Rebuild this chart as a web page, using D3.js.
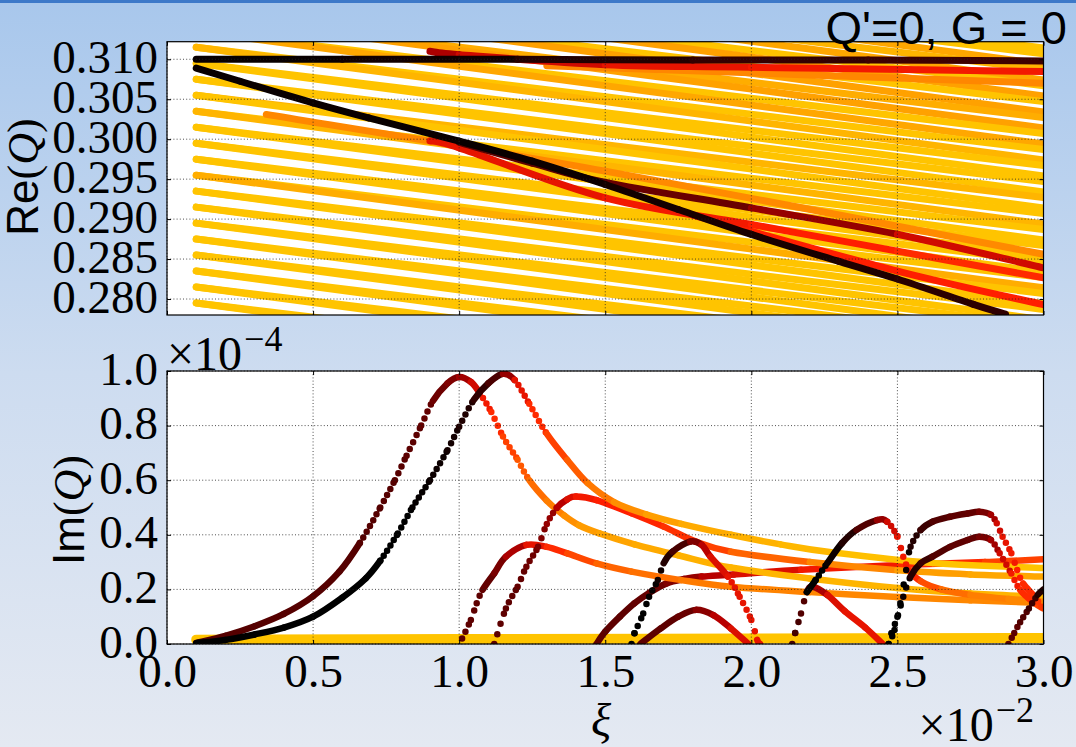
<!DOCTYPE html>
<html><head><meta charset="utf-8">
<script src="https://cdn.jsdelivr.net/npm/d3@7"></script>
<style>html,body{margin:0;padding:0;overflow:hidden;background:#cddcf0}</style>
</head><body>
<svg id="c" width="1076" height="747"></svg>
<script>
// ---------------- DATA ----------------
// ξ is in units of 1e-2, Im(Q) in units of 1e-4 (as on the axes)
const xiTicks = [0.0, 0.5, 1.0, 1.5, 2.0, 2.5, 3.0];
const reTicks = [0.280, 0.285, 0.290, 0.295, 0.300, 0.305, 0.310];
const imTicks = [0.0, 0.2, 0.4, 0.6, 0.8, 1.0];

// Re(Q): stable mode lines, value at ξ=0.1 and at ξ=3.0 (two branches per start)
const modeXi = [0.1, 3.0];
const modeStart = [0.3255,0.3235,0.3215,0.3195,0.3175,0.3155,0.3135,0.3115,0.3095,0.3075,0.3055,0.3035,0.3015,0.2995,0.2975,0.2955,0.2935,0.2915,0.2895,0.2875,0.2855,0.2835,0.2815,0.2795];
const modeEndA  = [0.3127,0.3107,0.3087,0.3067,0.3047,0.3027,0.3007,0.2987,0.2967,0.2947,0.2927,0.2907,0.2887,0.2867,0.2847,0.2827,0.2807,0.2787,0.2767,0.2747,0.2727,0.2707,0.2687,0.2667];
const modeEndB  = [0.3114,0.3094,0.3074,0.3054,0.3034,0.3014,0.2994,0.2974,0.2954,0.2934,0.2914,0.2894,0.2874,0.2854,0.2834,0.2814,0.2794,0.2774,0.2754,0.2734,0.2714,0.2694,0.2674,0.2654];
const modeColA  = [1,1,0.95,1,1,0.92,1,1,1,1,0.95,1,1,1,1,1,1,1,1,1,1,1,1,1];
const modeColB  = [1,0.9,0.9,0.88,0.88,0.88,0.9,0.95,1,1,1,0.95,1,1,1,0.92,1,1,1,1,1,1,1,1];

// Re(Q): coloured (coupled) branches [ξ, Re, colour]
const reFlat  = [[0.1,0.3100,0.02],[0.6,0.3100,0.02],[1.2,0.3100,0.05],[1.8,0.3099,0.1],[2.4,0.3099,0.12],[3.0,0.3098,0.15]];
const reSteep = [[0.1,0.3089,0.02],[0.25,0.30725,0.02],[0.5,0.30454,0.02],[0.69,0.30266,0.02],[1.0,0.29975,0.02],[1.25,0.29725,0.02],[1.5,0.29433,0.03],[1.75,0.2912,0.05],[2.0,0.28808,0.05],[2.3,0.28470,0.05],[2.5,0.28250,0.08],[2.76,0.27933,0.1],[2.87,0.2781,0.1]];
const reDarkRed = [[1.0,0.2996,0.2],[1.25,0.2970,0.2],[1.5,0.2946,0.2],[2.0,0.2914,0.25],[2.5,0.2881,0.4],[3.0,0.2839,0.5]];
const reRed1  = [[0.9,0.2998,0.5],[1.0,0.29891,0.5],[1.5,0.29266,0.5],[2.0,0.28933,0.55],[2.5,0.2860,0.55],[3.0,0.28266,0.6]];
const reOrange1 = [[0.34,0.3031,0.8],[1.5,0.2960,0.8],[3.0,0.2856,0.82]];
const reRed2  = [[0.9,0.3110,0.35],[1.0,0.31058,0.4],[1.5,0.30933,0.5],[2.0,0.3090,0.5],[3.0,0.30846,0.55]];
const reOrange2 = [[1.3,0.3092,0.8],[3.0,0.3070,0.8]];
const reRed3  = [[1.8,0.2905,0.55],[2.5,0.2835,0.55],[3.0,0.2793,0.55]];

// Im(Q) branches [ξ, Im, colour]
const imBase = [[0.1,0.016,1],[1.0,0.018,1],[2.0,0.02,1],[3.0,0.022,1]];
const imA = [[0.10,0.004,0.18],[0.2,0.03,0.18],[0.3,0.065,0.18],[0.4,0.11,0.18],[0.5,0.175,0.18],[0.59,0.265,0.18],[0.66,0.37,0.18],[0.73,0.50,0.18],[0.78,0.60,0.18],[0.82,0.69,0.19],[0.87,0.80,0.2],[0.91,0.89,0.22],[0.96,0.955,0.25],[1.00,0.978,0.3],[1.04,0.96,0.4],[1.07,0.92,0.5],[1.11,0.85,0.55],[1.15,0.76,0.6],[1.20,0.675,0.65],[1.24,0.60,0.7],[1.30,0.525,0.75],[1.36,0.47,0.8],[1.41,0.435,0.85],[1.48,0.405,0.88],[1.60,0.365,0.9],[1.75,0.325,0.92],[1.93,0.28,0.95],[2.2,0.24,0.95],[2.5,0.205,0.95],[2.75,0.185,0.95],[3.0,0.173,0.95]];
const imB = [[0.10,0.003,0.0],[0.2,0.015,0.0],[0.3,0.035,0.0],[0.4,0.06,0.0],[0.5,0.10,0.0],[0.6,0.17,0.0],[0.68,0.24,0.0],[0.73,0.305,0.0],[0.79,0.405,0.0],[0.84,0.50,0.0],[0.90,0.60,0.02],[0.96,0.71,0.03],[1.00,0.796,0.05],[1.05,0.894,0.08],[1.10,0.955,0.12],[1.15,0.99,0.2],[1.19,0.967,0.45],[1.24,0.88,0.55],[1.30,0.77,0.6],[1.37,0.674,0.65],[1.44,0.589,0.72],[1.53,0.52,0.8],[1.64,0.475,0.85],[1.76,0.44,0.9],[1.93,0.40,0.93],[2.10,0.365,0.95],[2.28,0.335,0.97],[2.62,0.297,1.0],[3.0,0.278,1.0]];
const imC = [[1.12,0.0,0.2],[1.16,0.13,0.2],[1.20,0.21,0.2],[1.23,0.283,0.22],[1.27,0.356,0.25],[1.30,0.44,0.3],[1.335,0.50,0.35],[1.37,0.53,0.45],[1.40,0.54,0.5],[1.47,0.527,0.55],[1.59,0.479,0.55],[1.70,0.43,0.58],[1.81,0.375,0.6],[1.93,0.338,0.65],[2.2,0.30,0.75],[2.5,0.27,0.85],[2.75,0.255,0.9],[3.0,0.247,0.9]];
const imD = [[1.01,0.02,0.2],[1.04,0.088,0.2],[1.06,0.149,0.2],[1.08,0.198,0.2],[1.12,0.259,0.22],[1.16,0.32,0.3],[1.23,0.363,0.45],[1.30,0.356,0.55],[1.37,0.332,0.6],[1.47,0.295,0.68],[1.59,0.265,0.72],[1.76,0.234,0.75],[1.93,0.21,0.78],[2.2,0.19,0.8],[2.5,0.172,0.8],[2.75,0.16,0.8],[3.0,0.15,0.8]];
const imE = [[1.47,0.0,0.2],[1.50,0.045,0.2],[1.55,0.10,0.2],[1.60,0.149,0.2],[1.65,0.187,0.22],[1.71,0.222,0.25],[1.77,0.238,0.3],[1.83,0.247,0.35],[1.94,0.255,0.45],[2.17,0.272,0.5],[2.51,0.289,0.55],[2.8,0.30,0.6],[3.0,0.31,0.65]];
const imF = [[1.59,0.0,0.0],[1.60,0.039,0.0],[1.63,0.112,0.0],[1.65,0.173,0.0],[1.68,0.234,0.02],[1.70,0.296,0.05],[1.73,0.338,0.1],[1.79,0.375,0.2],[1.83,0.363,0.35],[1.86,0.32,0.45],[1.92,0.247,0.5],[1.96,0.173,0.5],[2.00,0.088,0.5],[2.02,0.015,0.5],[2.03,0.0,0.5]];
const imG = [[1.62,0.0,0.2],[1.69,0.057,0.2],[1.75,0.10,0.2],[1.81,0.125,0.25],[1.87,0.106,0.35],[1.93,0.057,0.45],[1.99,0.0,0.5]];
const imH = [[2.14,0.0,0.15],[2.15,0.04,0.15],[2.17,0.112,0.15],[2.19,0.19,0.2],[2.21,0.21,0.3],[2.26,0.18,0.45],[2.32,0.12,0.5],[2.39,0.06,0.5],[2.45,0.0,0.5]];
const imI = [[2.19,0.19,0.0],[2.22,0.234,0.0],[2.26,0.296,0.0],[2.31,0.369,0.05],[2.36,0.418,0.1],[2.43,0.454,0.25],[2.465,0.448,0.4],[2.50,0.393,0.5],[2.52,0.32,0.5],[2.54,0.27,0.55],[2.58,0.23,0.6],[2.65,0.20,0.7],[2.75,0.18,0.75],[2.88,0.165,0.8],[3.0,0.155,0.8]];
const imJ = [[2.47,0.0,0.0],[2.48,0.039,0.0],[2.50,0.10,0.0],[2.52,0.173,0.0],[2.545,0.247,0.05],[2.58,0.296,0.1],[2.62,0.32,0.15],[2.68,0.356,0.2],[2.74,0.381,0.2],[2.78,0.393,0.22],[2.82,0.381,0.3],[2.85,0.332,0.4],[2.89,0.258,0.5],[2.92,0.198,0.55],[2.97,0.149,0.6],[3.0,0.13,0.65]];
const imK = [[2.47,0.0,0.0],[2.49,0.051,0.0],[2.51,0.149,0.0],[2.53,0.271,0.0],[2.545,0.356,0.05],[2.58,0.418,0.1],[2.62,0.448,0.15],[2.68,0.466,0.2],[2.74,0.478,0.2],[2.78,0.484,0.22],[2.82,0.473,0.3],[2.84,0.442,0.4],[2.86,0.393,0.5],[2.89,0.332,0.5],[2.91,0.271,0.55],[2.93,0.222,0.55],[2.97,0.173,0.6],[3.0,0.125,0.6]];
const imL = [[2.88,0.0,0.2],[2.90,0.04,0.2],[2.92,0.08,0.2],[2.95,0.13,0.15],[2.98,0.18,0.1],[3.0,0.2,0.05]];

// ---------------- DRAWING ----------------
const svg = d3.select("#c");
const defs = svg.append("defs");
const grad = defs.append("linearGradient").attr("id","bg").attr("x1",0).attr("y1",0).attr("x2",0).attr("y2",1);
grad.append("stop").attr("offset","0").attr("stop-color","#a8c7ec");
grad.append("stop").attr("offset","0.5").attr("stop-color","#cddcf0");
grad.append("stop").attr("offset","1").attr("stop-color","#e4e9f2");
svg.append("rect").attr("width",1076).attr("height",747).attr("fill","url(#bg)");
svg.append("rect").attr("width",1076).attr("height",3).attr("fill","#3d79c9");

const cmap = d3.scaleLinear()
  .domain([0,0.2,0.4,0.55,0.7,0.85,1])
  .range(["#000000","#5e0000","#b80000","#ff1e00","#ff6400","#ff9800","#ffc400"])
  .clamp(true);

const x = d3.scaleLinear().domain([0,3]).range([167,1043.5]);
const yRe = d3.scaleLinear().domain([0.278,0.3122]).range([315,41.7]);
const yIm = d3.scaleLinear().domain([0,1]).range([644,371]);

const boxes = {
  top: {y0: yRe.range()[1], y1: yRe.range()[0]},
  bot: {y0: yIm.range()[1], y1: yIm.range()[0]}
};
const X0 = x.range()[0], X1 = x.range()[1];

["top","bot"].forEach(k=>{
  const b = boxes[k];
  svg.append("rect").attr("x",X0).attr("y",b.y0).attr("width",X1-X0).attr("height",b.y1-b.y0).attr("fill","#ffffff");
  defs.append("clipPath").attr("id","clip-"+k).append("rect")
    .attr("x",X0).attr("y",b.y0).attr("width",X1-X0).attr("height",b.y1-b.y0);
});

const gTop = svg.append("g").attr("clip-path","url(#clip-top)");
const gBot = svg.append("g").attr("clip-path","url(#clip-bot)");

// draw a branch as smooth (Catmull-Rom) segments coloured individually;
// steep parts of the sampled data appear as separated dots
function branch(g, pts, y, width, dotted){
  const P = pts.map(d=>[x(d[0]), y(d[1])]);
  for(let i=0;i<P.length-1;i++){
    const p0 = P[Math.max(0,i-1)], p1 = P[i], p2 = P[i+1], p3 = P[Math.min(P.length-1,i+2)];
    const c1 = [p1[0]+(p2[0]-p0[0])/6, p1[1]+(p2[1]-p0[1])/6];
    const c2 = [p2[0]-(p3[0]-p1[0])/6, p2[1]-(p3[1]-p1[1])/6];
    const pa = d3.path();
    pa.moveTo(p1[0],p1[1]);
    pa.bezierCurveTo(c1[0],c1[1],c2[0],c2[1],p2[0],p2[1]);
    const dx = Math.abs(p2[0]-p1[0]), dy = Math.abs(p2[1]-p1[1]);
    const L = Math.hypot(dx,dy);
    const n = Math.max(1, dx/3.3);
    const sp = L/n;
    const path = g.append("path").attr("d", pa.toString())
      .attr("fill","none")
      .attr("stroke", cmap((pts[i][2]+pts[i+1][2])/2))
      .attr("stroke-width", width)
      .attr("stroke-linecap","round");
    if(dotted && sp > 5.8) path.attr("stroke-dasharray", `0 ${sp.toFixed(2)}`);
  }
}

// top panel
modeStart.forEach((s,i)=>{
  branch(gTop, [[modeXi[0], s, modeColA[i]],[modeXi[1], modeEndA[i], modeColA[i]]], yRe, 7, false);
  branch(gTop, [[modeXi[0], s, modeColB[i]],[modeXi[1], modeEndB[i], modeColB[i]]], yRe, 7, false);
});
[reOrange1, reOrange2, reRed3, reRed1, reDarkRed, reRed2, reFlat, reSteep].forEach(b=>branch(gTop, b, yRe, 7, false));

// bottom panel
branch(gBot, imBase, yIm, 10, false);
[imE, imD, imA, imC, imB, imG, imF, imH, imI, imJ, imK, imL].forEach(b=>branch(gBot, b, yIm, 6.5, true));

// grids (dotted, on top of data)
function grid(yScale, yTicks, b){
  const g = svg.append("g").attr("stroke","#222").attr("stroke-width",0.8).attr("stroke-dasharray","1,2.2");
  g.selectAll("line.v").data(xiTicks).join("line")
    .attr("x1",d=>x(d)).attr("x2",d=>x(d)).attr("y1",b.y0).attr("y2",b.y1);
  g.selectAll("line.h").data(yTicks).join("line")
    .attr("x1",X0).attr("x2",X1).attr("y1",d=>yScale(d)).attr("y2",d=>yScale(d));
}
grid(yRe, reTicks, boxes.top);
grid(yIm, imTicks, boxes.bot);

// axes
const serif = "'Liberation Serif','Times New Roman',serif";
function axes(yScale, yTicks, fmt, b, showX){
  const ax = svg.append("g").attr("transform",`translate(${X0},0)`)
    .call(d3.axisLeft(yScale).tickValues(yTicks).tickFormat(fmt).tickSize(-4));
  ax.select(".domain").remove();
  ax.selectAll("text").attr("x",-9).attr("dy",null).attr("y",13)
    .attr("font-family",serif).attr("font-size",47).attr("fill","#000");
  const ar = svg.append("g").attr("transform",`translate(${X1},0)`)
    .call(d3.axisRight(yScale).tickValues(yTicks).tickFormat("").tickSize(-4));
  ar.select(".domain").remove();
  const at = svg.append("g").attr("transform",`translate(0,${b.y0})`)
    .call(d3.axisTop(x).tickValues(xiTicks).tickFormat("").tickSize(-4));
  at.select(".domain").remove();
  const ab = svg.append("g").attr("transform",`translate(0,${b.y1})`)
    .call(d3.axisBottom(x).tickValues(xiTicks).tickFormat(showX ? d3.format(".1f") : "").tickSize(-4));
  ab.select(".domain").remove();
  if(showX){
    ab.selectAll("text").attr("y",43).attr("dy",null)
      .attr("font-family",serif).attr("font-size",47).attr("fill","#000");
  }
  svg.append("rect").attr("x",X0).attr("y",b.y0).attr("width",X1-X0).attr("height",b.y1-b.y0)
    .attr("fill","none").attr("stroke","#000").attr("stroke-width",1.2);
}
axes(yRe, reTicks, d3.format(".3f"), boxes.top, false);
axes(yIm, imTicks, d3.format(".1f"), boxes.bot, true);

// labels
function ylab(tx, ty, name){
  const t = svg.append("text").attr("transform",`translate(${tx},${ty}) rotate(-90)`)
    .attr("text-anchor","middle").attr("font-size",44).attr("fill","#000");
  t.append("tspan").attr("font-family","'Liberation Sans',Arial,sans-serif").text(name);
  t.append("tspan").attr("font-family",serif).text("(");
  t.append("tspan").attr("font-family",serif).attr("font-style","italic").text("Q");
  t.append("tspan").attr("font-family",serif).text(")");
}
ylab(38, 177, "Re");
ylab(84, 510, "Im");

svg.append("text").attr("x",601).attr("y",736).attr("text-anchor","middle")
  .attr("font-family",serif).attr("font-style","italic").attr("font-size",47).text("ξ");

const off4 = svg.append("text").attr("x",167).attr("y",370).attr("font-family",serif).attr("font-size",48);
off4.append("tspan").text("×10");
off4.append("tspan").attr("font-size",36).attr("dx",2).attr("dy",-19).text("−4");

const off2 = svg.append("text").attr("x",1034).attr("y",741).attr("text-anchor","end").attr("font-family",serif).attr("font-size",48);
off2.append("tspan").text("×10");
off2.append("tspan").attr("font-size",36).attr("dx",2).attr("dy",-19).text("−2");

svg.append("text").attr("x",1067).attr("y",44).attr("text-anchor","end")
  .attr("font-family","'Liberation Sans',Arial,sans-serif").attr("font-size",47).attr("fill","#000")
  .text("Q'=0, G = 0");
</script>
</body></html>
